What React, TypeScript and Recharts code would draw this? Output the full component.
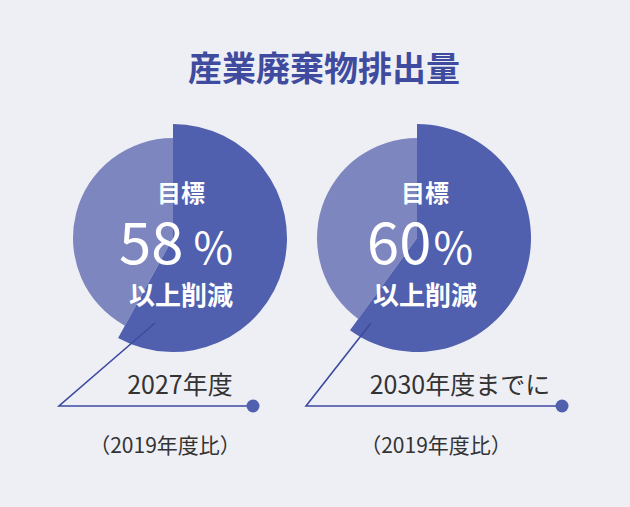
import React from 'react';
import { PieChart, Pie, Cell } from 'recharts';

// 削減目標 (%) と残り
const targets = ['2027年度', '2030年度までに'];
const reductionPct = [58, 60];
const baseLabel = '（2019年度比）';
const title = '産業廃棄物排出量';

const DARK = '#5160ae';
const LIGHT = '#7e86bf';
const LINE = '#3d4aa0';
const BG = '#eeeff5';
const FONT = '"Noto Sans CJK JP", "Noto Sans", sans-serif';

// layout for each gauge
const gauges = [
  { cx: 173, cy: 238, textX: 181, lineStart: [155, 323], lineCorner: 59, dotX: 253, labelX: 180, noteX: 165, pctGap: 10 },
  { cx: 417, cy: 238, textX: 425, lineStart: [371, 323], lineCorner: 306, dotX: 562, labelX: 460, noteX: 436, pctGap: 2 },
];
const LINE_Y = 406;

const App: React.FC = () => {
  return (
    <div style={{ width: 630, height: 507, background: BG, position: 'relative' }}>
      <style>{`body{margin:0;}`}</style>
      <PieChart width={630} height={507} margin={{ top: 0, right: 0, bottom: 0, left: 0 }}>
        {gauges.map((g, i) => {
          const data = [
            { name: '削減', value: reductionPct[i] },
            { name: '残り', value: 100 - reductionPct[i] },
          ];
          return [
            <Pie
              key={`light-${i}`}
              data={data}
              dataKey="value"
              cx={g.cx}
              cy={g.cy}
              innerRadius={0}
              outerRadius={100}
              startAngle={90}
              endAngle={-270}
              stroke="none"
              isAnimationActive={false}
            >
              <Cell fill="transparent" />
              <Cell fill={LIGHT} />
            </Pie>,
            <Pie
              key={`dark-${i}`}
              data={data}
              dataKey="value"
              cx={g.cx}
              cy={g.cy}
              innerRadius={0}
              outerRadius={114}
              startAngle={90}
              endAngle={-270}
              stroke="none"
              isAnimationActive={false}
            >
              <Cell fill={DARK} />
              <Cell fill="transparent" />
            </Pie>,
          ];
        })}
      </PieChart>
      {/* annotations drawn on top of the pies */}
      <svg
        width={630}
        height={507}
        style={{ position: 'absolute', left: 0, top: 0, pointerEvents: 'none' }}
        fontFamily={FONT}
      >
        <text x={324} y={66} textAnchor="middle" dominantBaseline="central" fill="#3f4b9f" fontSize={34} fontWeight={700}>
          {title}
        </text>
        {gauges.map((g, i) => (
          <g key={`ann-${i}`}>
            <text x={g.textX} y={191} textAnchor="middle" dominantBaseline="central" fill="#fff" fontSize={24} fontWeight={700}>
              目標
            </text>
            <text x={g.textX - 5} y={264} textAnchor="middle" fill="#fff" fontWeight={400}>
              <tspan fontSize={58}>{reductionPct[i]}</tspan>
              <tspan fontSize={43} dx={g.pctGap}>%</tspan>
            </text>
            <text x={g.textX} y={293} textAnchor="middle" dominantBaseline="central" fill="#fff" fontSize={26} fontWeight={700}>
              以上削減
            </text>
            <polyline
              points={`${g.lineStart[0]},${g.lineStart[1]} ${g.lineCorner},${LINE_Y} ${g.dotX},${LINE_Y}`}
              fill="none"
              stroke={LINE}
              strokeWidth={1.6}
            />
            <circle cx={g.dotX} cy={LINE_Y} r={6.5} fill={DARK} />
            <text x={g.labelX} y={383} textAnchor="middle" dominantBaseline="central" fill="#333" fontSize={25} fontWeight={400}>
              {targets[i]}
            </text>
            <text x={g.noteX} y={444} textAnchor="middle" dominantBaseline="central" fill="#333" fontSize={21}>
              {baseLabel}
            </text>
          </g>
        ))}
      </svg>
    </div>
  );
};

export default App;
